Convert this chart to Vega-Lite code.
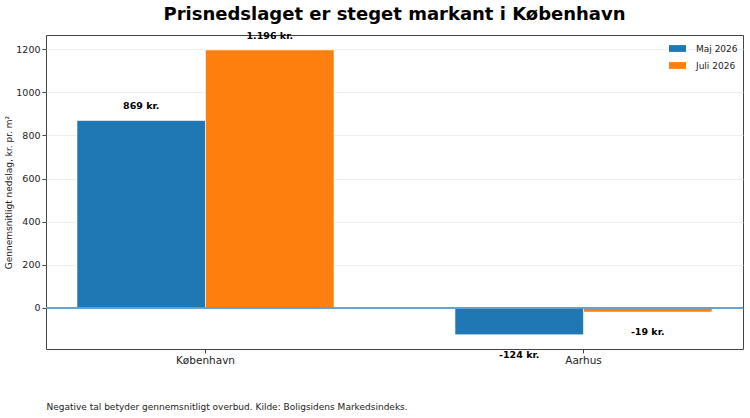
{
  "$schema": "https://vega.github.io/schema/vega-lite/v6.json",
  "background": "white",
  "autosize": {"type": "none"},
  "padding": {"left": 46, "top": 35, "right": 7, "bottom": 69},
  "width": 697,
  "height": 314,
  "view": {"stroke": "#444", "strokeWidth": 1},
  "title": {
    "text": "Prisnedslaget er steget markant i København",
    "font": "DejaVu Sans",
    "fontSize": 18,
    "fontWeight": "bold",
    "color": "#000",
    "anchor": "middle",
    "offset": 7
  },
  "config": {
    "font": "DejaVu Sans",
    "axis": {"labelColor": "#222", "titleColor": "#222", "tickColor": "#444", "domain": false}
  },
  "data": {
    "values": [
      {"by": "København", "periode": "Maj 2026", "vaerdi": 869, "label": "869 kr."},
      {"by": "København", "periode": "Juli 2026", "vaerdi": 1196, "label": "1.196 kr."},
      {"by": "Aarhus", "periode": "Maj 2026", "vaerdi": -124, "label": "-124 kr."},
      {"by": "Aarhus", "periode": "Juli 2026", "vaerdi": -19, "label": "-19 kr."}
    ]
  },
  "encoding": {
    "x": {
      "field": "by",
      "type": "nominal",
      "sort": ["København", "Aarhus"],
      "scale": {"paddingInner": 0.32, "paddingOuter": 0.082},
      "axis": {
        "title": "Negative tal betyder gennemsnitligt overbud. Kilde: Boligsidens Markedsindeks.",
        "titleFontSize": 9,
        "titleFontWeight": "normal",
        "titleAnchor": "start",
        "titleAlign": "left",
        "titlePadding": 37,
        "labelAngle": 0,
        "labelFontSize": 10.5,
        "labelPadding": 2,
        "tickSize": 4
      }
    },
    "xOffset": {
      "field": "periode",
      "type": "nominal",
      "sort": ["Maj 2026", "Juli 2026"],
      "scale": {"paddingInner": 0, "paddingOuter": 0}
    },
    "y": {
      "field": "vaerdi",
      "type": "quantitative",
      "scale": {"domain": [-190, 1265], "nice": false, "zero": false},
      "axis": {
        "title": "Gennemsnitligt nedslag, kr. pr. m²",
        "titleFontSize": 9,
        "titleFontWeight": "normal",
        "titlePadding": 2,
        "values": [0, 200, 400, 600, 800, 1000, 1200],
        "format": "d",
        "labelFontSize": 9.5,
        "tickSize": 4,
        "grid": true,
        "gridColor": "#ebebeb",
        "gridWidth": 0.8
      }
    }
  },
  "layer": [
    {
      "mark": {"type": "bar", "stroke": "white", "strokeWidth": 0.6},
      "encoding": {
        "color": {
          "field": "periode",
          "type": "nominal",
          "scale": {"domain": ["Maj 2026", "Juli 2026"], "range": ["#1f77b4", "#ff7f0e"]},
          "legend": {
            "title": null,
            "orient": "top-right",
            "offset": 5,
            "labelFontSize": 9,
            "labelColor": "#222",
            "symbolType": "M-1,-0.4L1,-0.4L1,0.4L-1,0.4Z",
            "symbolSize": 289,
            "symbolStrokeWidth": 0,
            "rowPadding": 3,
            "labelOffset": 10
          }
        }
      }
    },
    {
      "mark": {"type": "rule", "color": "#5b9fd2", "strokeWidth": 1},
      "encoding": {"y": {"datum": 0}, "x": {"value": 0}, "x2": {"value": 697}, "xOffset": null}
    },
    {
      "transform": [{"filter": "datum.vaerdi >= 0"}],
      "mark": {"type": "text", "baseline": "bottom", "dy": -9, "fontSize": 9.5, "fontWeight": "bold", "color": "#000"},
      "encoding": {"text": {"field": "label"}}
    },
    {
      "transform": [{"filter": "datum.vaerdi < 0"}],
      "mark": {"type": "text", "baseline": "top", "dy": 15, "fontSize": 9.5, "fontWeight": "bold", "color": "#000"},
      "encoding": {"text": {"field": "label"}}
    }
  ]
}
